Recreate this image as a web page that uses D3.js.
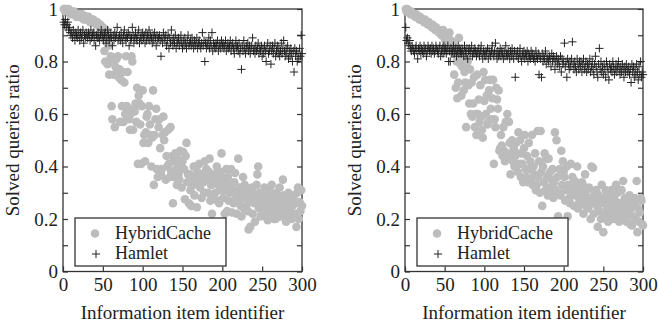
<!DOCTYPE html>
<html><head><meta charset="utf-8">
<script src="https://cdn.jsdelivr.net/npm/d3@7"></script>
<style>body{margin:0;background:#fff}</style>
</head><body>
<svg id="c" width="658" height="324"></svg>
<script>
const xTicks=[0,50,100,150,200,250,300];
const yTicks=[0,0.2,0.4,0.6,0.8,1];
const yMinorTicks=[0,0.1,0.2,0.3,0.4,0.5,0.6,0.7,0.8,0.9,1];
const seriesNames=["HybridCache","Hamlet"];
const axisTitles={x:"Information item identifier",y:"Solved queries ratio"};

const hybridLeft=[
1.00,1.00,0.99,1.00,0.99,0.99,1.00,0.99,0.98,0.99,
0.99,0.98,0.98,0.99,0.98,0.98,0.97,0.98,0.98,0.97,
0.98,0.97,0.97,0.98,0.97,0.96,0.97,0.97,0.96,0.97,
0.96,0.97,0.96,0.95,0.96,0.96,0.95,0.96,0.95,0.95,
0.95,0.94,0.95,0.94,0.94,0.93,0.94,0.93,0.92,0.93,
0.91,0.84,0.80,0.92,0.89,0.79,0.86,0.75,0.80,0.82,
0.63,0.58,0.80,0.75,0.55,0.78,0.81,0.77,0.82,0.74,
0.77,0.57,0.73,0.63,0.76,0.57,0.72,0.60,0.82,0.63,
0.76,0.61,0.58,0.54,0.60,0.82,0.80,0.54,0.62,0.61,
0.64,0.57,0.70,0.41,0.67,0.64,0.56,0.41,0.63,0.69,
0.49,0.52,0.42,0.53,0.59,0.60,0.49,0.63,0.56,0.52,
0.40,0.51,0.69,0.33,0.52,0.58,0.62,0.39,0.36,0.55,
0.58,0.47,0.37,0.39,0.52,0.59,0.50,0.53,0.35,0.44,
0.40,0.54,0.41,0.36,0.55,0.38,0.44,0.26,0.36,0.42,
0.45,0.39,0.33,0.43,0.37,0.35,0.46,0.40,0.32,0.42,
0.455,0.39,0.275,0.44,0.49,0.34,0.37,0.26,0.37,0.31,
0.25,0.36,0.33,0.40,0.29,0.40,0.35,0.245,0.38,0.33,
0.41,0.32,0.37,0.28,0.36,0.34,0.30,0.42,0.35,0.39,
0.36,0.30,0.38,0.43,0.27,0.33,0.22,0.35,0.28,0.37,
0.30,0.35,0.40,0.27,0.33,0.26,0.38,0.31,0.45,0.36,
0.28,0.34,0.22,0.31,0.39,0.23,0.36,0.27,0.30,0.33,
0.39,0.225,0.31,0.26,0.34,0.375,0.28,0.22,0.30,0.43,
0.27,0.32,0.25,0.21,0.29,0.36,0.24,0.33,0.28,0.25,
0.31,0.23,0.16,0.29,0.17,0.27,0.32,0.22,0.30,0.26,
0.19,0.28,0.33,0.37,0.40,0.24,0.30,0.21,0.27,0.25,
0.29,0.23,0.32,0.26,0.21,0.28,0.195,0.25,0.31,0.22,
0.27,0.33,0.24,0.29,0.20,0.26,0.20,0.30,0.23,0.28,
0.25,0.32,0.21,0.27,0.24,0.35,0.29,0.22,0.26,0.19,
0.28,0.23,0.30,0.21,0.24,0.27,0.20,0.25,0.21,0.29,
0.22,0.26,0.17,0.30,0.32,0.20,0.265,0.23,0.31,0.25];

const hamletLeft=[
0.95,0.94,0.96,0.93,0.94,0.95,0.92,0.93,0.91,0.90,
0.91,0.89,0.92,0.90,0.88,0.91,0.90,0.89,0.92,0.90,
0.88,0.91,0.89,0.90,0.92,0.87,0.90,0.89,0.91,0.90,
0.89,0.91,0.90,0.88,0.92,0.89,0.90,0.91,0.88,0.90,
0.86,0.90,0.89,0.91,0.89,0.88,0.90,0.92,0.89,0.90,
0.88,0.90,0.91,0.87,0.89,0.92,0.90,0.88,0.89,0.91,
0.89,0.86,0.90,0.88,0.91,0.89,0.90,0.93,0.88,0.89,
0.90,0.88,0.91,0.89,0.87,0.90,0.92,0.89,0.88,0.90,
0.89,0.91,0.86,0.90,0.88,0.89,0.93,0.90,0.87,0.89,
0.91,0.89,0.88,0.90,0.92,0.87,0.89,0.90,0.88,0.91,
0.89,0.90,0.87,0.91,0.88,0.90,0.89,0.92,0.88,0.90,
0.89,0.87,0.90,0.88,0.91,0.89,0.86,0.90,0.88,0.89,
0.90,0.88,0.82,0.89,0.87,0.91,0.89,0.88,0.90,0.86,
0.88,0.90,0.85,0.89,0.87,0.92,0.88,0.86,0.89,0.87,
0.90,0.85,0.88,0.87,0.89,0.86,0.88,0.90,0.87,0.85,
0.88,0.86,0.89,0.87,0.85,0.88,0.90,0.86,0.87,0.88,
0.86,0.89,0.87,0.85,0.88,0.86,0.87,0.89,0.85,0.87,
0.88,0.86,0.85,0.87,0.91,0.86,0.88,0.80,0.87,0.85,
0.87,0.86,0.89,0.85,0.88,0.86,0.91,0.84,0.87,0.86,
0.85,0.87,0.86,0.88,0.84,0.86,0.87,0.85,0.88,0.86,
0.87,0.85,0.86,0.88,0.84,0.86,0.87,0.85,0.86,0.88,
0.84,0.86,0.87,0.85,0.83,0.86,0.88,0.85,0.86,0.84,
0.87,0.83,0.85,0.77,0.86,0.84,0.88,0.85,0.83,0.86,
0.85,0.87,0.84,0.86,0.83,0.85,0.86,0.89,0.84,0.85,
0.83,0.86,0.84,0.85,0.87,0.83,0.85,0.84,0.86,0.82,
0.85,0.83,0.86,0.84,0.80,0.85,0.87,0.83,0.84,0.86,
0.79,0.84,0.86,0.83,0.85,0.87,0.82,0.84,0.86,0.83,
0.85,0.82,0.84,0.87,0.83,0.85,0.88,0.84,0.82,0.85,
0.83,0.86,0.81,0.84,0.82,0.85,0.83,0.80,0.84,0.76,
0.85,0.82,0.84,0.80,0.83,0.81,0.85,0.82,0.90,0.83];

const hybridRight=[
1.00,0.99,1.00,0.99,0.99,0.99,0.98,0.99,0.98,0.98,
0.98,0.98,0.97,0.98,0.97,0.97,0.97,0.96,0.97,0.96,
0.96,0.96,0.96,0.95,0.96,0.95,0.95,0.95,0.94,0.95,
0.94,0.94,0.94,0.93,0.94,0.93,0.93,0.92,0.93,0.92,
0.92,0.92,0.91,0.92,0.91,0.90,0.91,0.92,0.90,0.89,
0.88,0.87,0.89,0.90,0.86,0.91,0.85,0.88,0.84,0.87,
0.83,0.75,0.85,0.70,0.80,0.66,0.72,0.89,0.83,0.79,
0.67,0.78,0.82,0.69,0.76,0.72,0.55,0.78,0.80,0.71,
0.64,0.77,0.60,0.72,0.59,0.64,0.74,0.55,0.60,0.52,
0.75,0.60,0.655,0.57,0.71,0.59,0.54,0.51,0.76,0.65,
0.73,0.60,0.67,0.56,0.57,0.69,0.73,0.62,0.58,0.66,
0.73,0.41,0.58,0.55,0.70,0.655,0.62,0.69,0.46,0.47,
0.52,0.48,0.44,0.55,0.46,0.42,0.57,0.45,0.60,0.43,
0.57,0.49,0.37,0.45,0.50,0.42,0.47,0.40,0.44,0.49,
0.45,0.38,0.53,0.41,0.50,0.36,0.45,0.41,0.34,0.47,
0.52,0.39,0.36,0.44,0.34,0.49,0.39,0.42,0.35,0.52,
0.33,0.40,0.37,0.45,0.31,0.33,0.535,0.36,0.42,0.30,
0.535,0.38,0.25,0.40,0.34,0.45,0.31,0.43,0.36,0.29,
0.43,0.32,0.38,0.30,0.35,0.39,0.28,0.34,0.53,0.31,
0.50,0.36,0.21,0.30,0.39,0.29,0.46,0.33,0.42,0.38,
0.36,0.27,0.31,0.40,0.21,0.33,0.28,0.26,0.41,0.30,
0.36,0.32,0.25,0.345,0.29,0.31,0.40,0.24,0.33,0.27,
0.30,0.26,0.34,0.33,0.22,0.29,0.37,0.25,0.31,0.275,
0.24,0.32,0.28,0.20,0.40,0.26,0.395,0.22,0.30,0.27,
0.31,0.25,0.17,0.29,0.23,0.27,0.20,0.33,0.26,0.15,
0.28,0.22,0.31,0.27,0.24,0.19,0.29,0.21,0.26,0.31,
0.23,0.28,0.20,0.25,0.27,0.33,0.22,0.30,0.24,0.19,
0.26,0.21,0.31,0.25,0.345,0.23,0.28,0.20,0.19,0.27,
0.22,0.25,0.29,0.18,0.24,0.175,0.26,0.21,0.26,0.28,
0.20,0.345,0.15,0.24,0.19,0.225,0.28,0.27,0.18,0.175];

const hamletRight=[
0.93,0.88,0.89,0.87,0.86,0.88,0.85,0.84,0.86,0.85,
0.84,0.83,0.85,0.86,0.84,0.81,0.85,0.84,0.86,0.83,
0.85,0.84,0.83,0.86,0.84,0.85,0.82,0.84,0.86,0.85,
0.84,0.85,0.83,0.86,0.84,0.85,0.83,0.84,0.86,0.85,
0.84,0.83,0.85,0.86,0.82,0.84,0.85,0.83,0.86,0.84,
0.85,0.83,0.84,0.86,0.80,0.84,0.80,0.85,0.83,0.84,
0.86,0.83,0.84,0.85,0.82,0.84,0.86,0.83,0.85,0.84,
0.83,0.85,0.84,0.82,0.86,0.84,0.83,0.85,0.81,0.84,
0.85,0.83,0.84,0.86,0.82,0.84,0.83,0.85,0.84,0.82,
0.84,0.83,0.85,0.82,0.84,0.86,0.83,0.81,0.84,0.83,
0.82,0.84,0.83,0.85,0.81,0.84,0.83,0.82,0.84,0.86,
0.83,0.82,0.84,0.87,0.83,0.81,0.84,0.82,0.83,0.85,
0.82,0.84,0.83,0.81,0.84,0.82,0.86,0.83,0.82,0.84,
0.83,0.81,0.84,0.82,0.85,0.83,0.81,0.84,0.74,0.83,
0.82,0.84,0.81,0.83,0.85,0.82,0.80,0.83,0.82,0.84,
0.81,0.83,0.82,0.84,0.80,0.83,0.82,0.81,0.84,0.82,
0.83,0.81,0.82,0.80,0.84,0.82,0.81,0.83,0.75,0.82,
0.81,0.74,0.83,0.80,0.82,0.81,0.84,0.79,0.82,0.81,
0.80,0.82,0.81,0.78,0.83,0.80,0.82,0.81,0.77,0.80,
0.82,0.79,0.81,0.80,0.78,0.82,0.76,0.81,0.79,0.80,
0.87,0.78,0.80,0.74,0.81,0.79,0.77,0.80,0.78,0.81,
0.875,0.79,0.77,0.80,0.78,0.76,0.81,0.79,0.77,0.80,
0.78,0.80,0.76,0.79,0.81,0.77,0.78,0.80,0.76,0.79,
0.77,0.79,0.81,0.76,0.78,0.80,0.77,0.75,0.79,0.82,
0.78,0.76,0.74,0.79,0.85,0.77,0.80,0.76,0.78,0.75,
0.79,0.77,0.74,0.80,0.78,0.76,0.73,0.79,0.77,0.78,
0.76,0.80,0.78,0.75,0.77,0.79,0.76,0.78,0.80,0.77,
0.75,0.78,0.76,0.79,0.77,0.74,0.78,0.76,0.79,0.77,
0.76,0.78,0.75,0.77,0.72,0.79,0.76,0.78,0.74,0.77,
0.75,0.79,0.76,0.73,0.78,0.75,0.80,0.74,0.76,0.75];

const svg=d3.select("#c");
const FONT="'Liberation Serif','Times New Roman',serif";
const AX="#333";
const GREY="#bcbcbc";
const PLUS="#222";
const plotTop=9,plotBottom=271.5;

const panels=[
 {x0:63,x1:302,hyb:hybridLeft,ham:hamletLeft,tx:19},
 {x0:405,x1:643,hyb:hybridRight,ham:hamletRight,tx:361}
];

panels.forEach(p=>{
  const x=d3.scaleLinear().domain([0,300]).range([p.x0,p.x1]);
  const y=d3.scaleLinear().domain([0,1]).range([plotBottom,plotTop]);
  const g=svg.append("g");

  const la=g.append("g").attr("transform",`translate(${p.x0},0)`)
    .call(d3.axisLeft(y).tickValues(yMinorTicks).tickSize(-5).tickPadding(5)
      .tickFormat(v=>yTicks.some(t=>Math.abs(t-v)<1e-6)?d3.format("~g")(v):""));
  const ra=g.append("g").attr("transform",`translate(${p.x1},0)`)
    .call(d3.axisRight(y).tickValues(yMinorTicks).tickSize(-5).tickFormat(""));
  const ba=g.append("g").attr("transform",`translate(0,${plotBottom})`)
    .call(d3.axisBottom(x).tickValues(xTicks).tickSize(-5).tickPadding(6).tickFormat(d3.format("d")));
  [la,ra,ba].forEach(a=>{
    a.select(".domain").remove();
    a.selectAll("line").attr("stroke",AX).attr("stroke-width",1.2);
    a.selectAll("text").attr("font-family",FONT).attr("font-size",19).attr("fill","#222");
  });
  g.append("rect").attr("x",p.x0).attr("y",plotTop).attr("width",p.x1-p.x0).attr("height",plotBottom-plotTop)
    .attr("fill","none").attr("stroke",AX).attr("stroke-width",1.3);

  g.append("g").selectAll("circle").data(p.hyb).join("circle")
    .attr("cx",(d,i)=>x(i+1)).attr("cy",d=>y(d)).attr("r",4.3).attr("fill",GREY);
  const s=4.1;
  g.append("g").selectAll("path").data(p.ham).join("path")
    .attr("d",(d,i)=>{const cx=x(i+1),cy=y(d);return `M${cx-s},${cy}H${cx+s}M${cx},${cy-s}V${cy+s}`;})
    .attr("stroke",PLUS).attr("stroke-width",1).attr("fill","none");

  g.append("text").attr("x",(p.x0+p.x1)/2).attr("y",319).attr("text-anchor","middle")
    .attr("font-family",FONT).attr("font-size",19).attr("fill","#222").text(axisTitles.x);
  g.append("text").attr("transform",`translate(${p.tx},${(plotTop+plotBottom)/2}) rotate(-90)`)
    .attr("text-anchor","middle").attr("font-family",FONT).attr("font-size",19).attr("fill","#222").text(axisTitles.y);

  const lx=p.x0+12, ly=218;
  g.append("rect").attr("x",lx).attr("y",ly).attr("width",151).attr("height",48)
    .attr("fill","#fff").attr("stroke",AX).attr("stroke-width",1.3);
  g.append("circle").attr("cx",lx+20).attr("cy",ly+15.5).attr("r",4.3).attr("fill",GREY);
  const px=lx+21,py=ly+36;
  g.append("path").attr("d",`M${px-s},${py}H${px+s}M${px},${py-s}V${py+s}`).attr("stroke",PLUS).attr("stroke-width",1);
  g.append("text").attr("x",lx+40).attr("y",ly+20.5).attr("font-family",FONT).attr("font-size",18).attr("fill","#222").text(seriesNames[0]);
  g.append("text").attr("x",lx+40).attr("y",ly+40.5).attr("font-family",FONT).attr("font-size",18).attr("fill","#222").text(seriesNames[1]);
});
</script>
</body></html>
